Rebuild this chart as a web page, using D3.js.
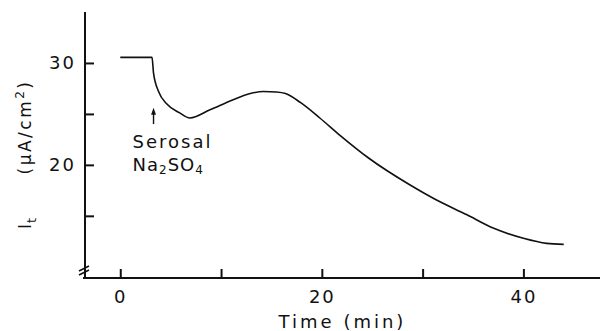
<!DOCTYPE html>
<html>
<head>
<meta charset="utf-8">
<script src="https://cdn.jsdelivr.net/npm/d3@7"></script>
<style>
  html, body { margin: 0; padding: 0; background: #fff; }
  svg { display: block; }
  text { font-family: "DejaVu Sans", sans-serif; fill: #111; }
</style>
</head>
<body>
<svg id="chart" width="600" height="331"></svg>
<script>
// Short-circuit current I_t over time, serosal Na2SO4 added at ~3 min
const time    = [0, 3.15, 3.3, 3.8, 4.6, 5.9, 6.9, 8.9, 11.2, 12.9, 14.2, 15.5, 16.4, 17.9, 19.8, 21.8, 24.6, 28.8, 31.1, 34.4, 37.0, 40.0, 42.3, 44.0];
const current = [30.55, 30.55, 29.0, 27.2, 26.0, 25.1, 24.6, 25.4, 26.4, 27.0, 27.2, 27.15, 27.0, 26.1, 24.6, 22.9, 20.7, 18.0, 16.7, 15.1, 13.8, 12.8, 12.3, 12.2];

const xTicks = [0, 10, 20, 30, 40];
const xTickLabels = ["0", "", "20", "", "40"];
const yTicks = [15, 20, 25, 30];
const yTickLabels = ["", "20", "", "30"];

// Arrow marking the addition
const arrowTime = 3.3;
const arrowFrom = 24.0;
const arrowTo = 25.6;
const noteLines = ["Serosal", "Na2SO4"];

const svg = d3.select("#chart");
const x = d3.scaleLinear().domain([-3.5, 47.6]).range([85, 600]);
const y = d3.scaleLinear().domain([8.9, 35]).range([278, 12]);

const ink = "#111";

// Axes
const xAxis = d3.axisBottom(x).tickValues(xTicks).tickSize(-9).tickPadding(12)
  .tickFormat((d, i) => xTickLabels[i]);
const yAxis = d3.axisLeft(y).tickValues(yTicks).tickSize(-9).tickPadding(9)
  .tickFormat((d, i) => yTickLabels[i]);

const gx = svg.append("g").attr("transform", `translate(0,${y.range()[0]})`).call(xAxis);
const gy = svg.append("g").attr("transform", `translate(${x.range()[0]},0)`).call(yAxis);

[gx, gy].forEach(g => {
  g.select(".domain").attr("stroke", ink).attr("stroke-width", 2);
  g.selectAll(".tick line").attr("stroke", ink).attr("stroke-width", 2);
  g.selectAll(".tick text").attr("font-size", 18).attr("fill", ink)
    .attr("letter-spacing", 2)
    .style("font-family", "DejaVu Sans, sans-serif");
});
gx.select(".domain").attr("d", `M${x.range()[0] - 2},0H${x.range()[1]}`);
gy.select(".domain").attr("d", `M0,${y.range()[1]}V${y.range()[0] + 1}`);

// Axis break marks on the y axis
const bx = x.range()[0], by = y.range()[0] - 10;
[0, 4].forEach(o => {
  svg.append("line")
    .attr("x1", bx - 6).attr("y1", by + 3 + o)
    .attr("x2", bx + 4).attr("y2", by - 2 + o)
    .attr("stroke", ink).attr("stroke-width", 1.6);
});

// Current trace
const line = d3.line().x(d => x(d[0])).y(d => y(d[1])).curve(d3.curveMonotoneX);
svg.append("path")
  .datum(time.map((t, i) => [t, current[i]]))
  .attr("d", line)
  .attr("fill", "none")
  .attr("stroke", ink)
  .attr("stroke-width", 1.6);

// Arrow
const ax = x(arrowTime);
svg.append("line")
  .attr("x1", ax).attr("y1", y(arrowFrom))
  .attr("x2", ax).attr("y2", y(arrowTo) + 5)
  .attr("stroke", ink).attr("stroke-width", 1.4);
svg.append("path")
  .attr("d", `M${ax},${y(arrowTo)} L${ax - 2.5},${y(arrowTo) + 7} L${ax + 2.5},${y(arrowTo) + 7} Z`)
  .attr("fill", ink);

// Annotation text
const tx = ax - 21;
svg.append("text").attr("x", tx).attr("y", 148).attr("font-size", 18)
  .attr("letter-spacing", 2).text(noteLines[0]);
const na = svg.append("text").attr("x", tx).attr("y", 171).attr("font-size", 18).attr("letter-spacing", 1);
na.append("tspan").text("Na");
na.append("tspan").attr("font-size", 12).attr("dy", 3).text("2");
na.append("tspan").attr("dy", -3).text("SO");
na.append("tspan").attr("font-size", 12).attr("dy", 3).text("4");

// Axis titles
svg.append("text")
  .attr("x", (x.range()[0] + x.range()[1]) / 2).attr("y", 328)
  .attr("text-anchor", "middle").attr("font-size", 18).attr("letter-spacing", 3)
  .text("Time (min)");

const yl = svg.append("text")
  .attr("transform", "translate(31,127) rotate(-90)")
  .attr("text-anchor", "middle").attr("font-size", 17).attr("letter-spacing", 2.5);
yl.append("tspan").text("(μA/cm");
yl.append("tspan").attr("font-size", 12).attr("dy", -7).text("2");
yl.append("tspan").attr("dy", 7).text(")");

const il = svg.append("text")
  .attr("transform", "translate(31,229) rotate(-90)")
  .attr("font-size", 17);
il.append("tspan").text("I");
il.append("tspan").attr("font-size", 13).attr("dy", 5).attr("dx", 1).text("t");
</script>
</body>
</html>
